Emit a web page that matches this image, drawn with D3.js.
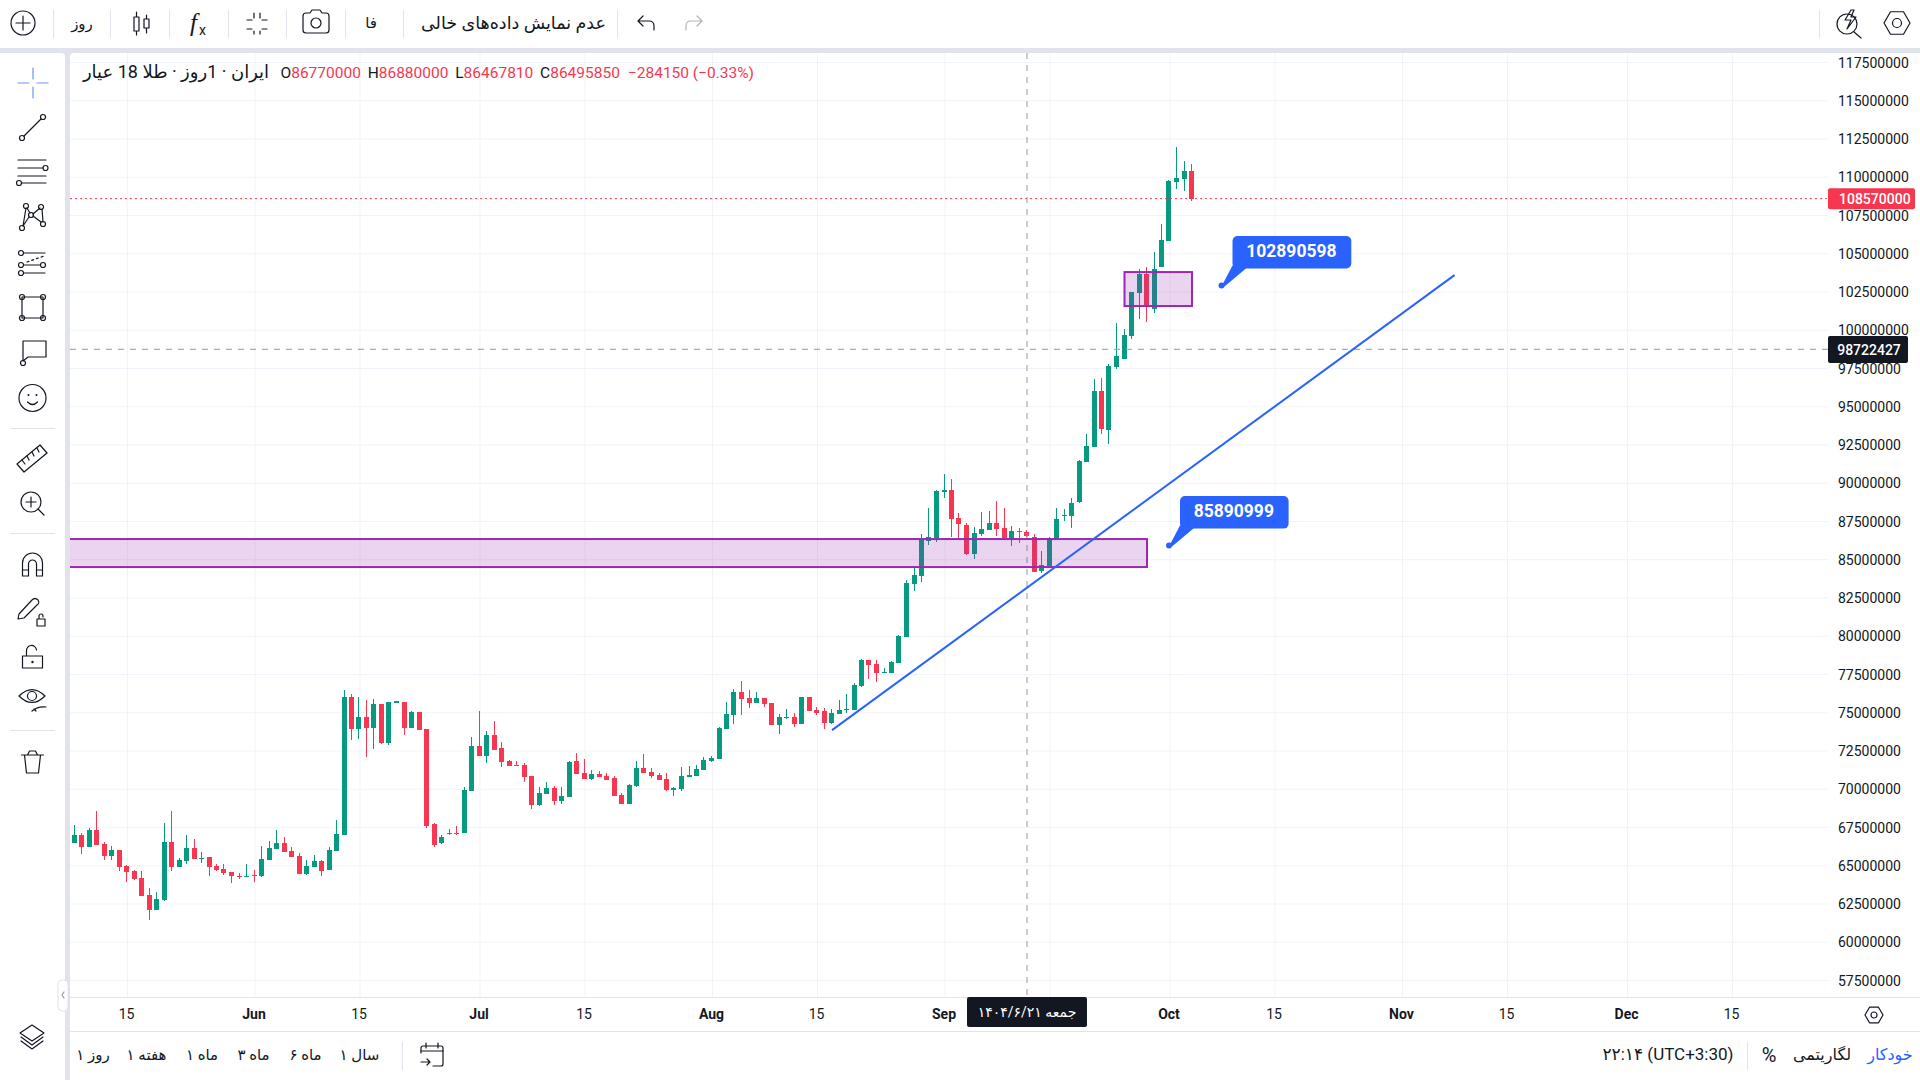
<!DOCTYPE html>
<html>
<head>
<meta charset="utf-8">
<script src="https://d3js.org/d3.v7.min.js"></script>
<style>
  body { margin: 0; background: #fff; }
  svg { display: block; }
  text { font-family: Roboto, "DejaVu Sans", sans-serif; fill: #131722; }
  .ic { fill: none; stroke: #131722; stroke-width: 1.2; stroke-linecap: round; stroke-linejoin: round; }
</style>
</head>
<body>
<svg id="chart" width="1920" height="1080"></svg>
<script>
// daily candles from 8 May 2025, prices in millions
const firstDay = new Date(Date.UTC(2025, 4, 8));
const opens = [
  66.46,66.98,66.20,67.31,66.39,65.61,66.00,64.95,64.63,64.17,
  63.06,62.08,62.73,66.52,64.89,65.28,66.13,65.41,65.54,64.95,
  64.76,64.56,64.30,64.23,64.37,64.30,65.35,66.07,66.46,65.93,
  65.61,64.43,64.89,65.28,64.69,65.93,66.98,75.99,73.91,74.69,
  73.97,75.54,72.99,75.61,75.67,73.97,75.00,73.91,67.70,66.43,
  67.11,67.11,67.09,69.86,72.80,72.14,73.51,72.67,71.82,71.55,
  71.55,70.84,68.94,69.66,70.05,69.20,69.46,71.82,71.03,70.64,
  70.97,70.84,70.70,69.59,69.00,70.18,71.36,71.10,70.90,70.64,
  69.92,69.99,70.77,70.84,71.23,71.82,71.95,73.91,74.82,76.32,
  75.93,75.60,75.93,75.60,74.16,74.62,74.69,74.23,75.99,75.15,
  75.08,74.30,74.88,75.15,75.15,76.71,78.41,78.15,77.56,77.56,
  78.22,79.92,83.39,83.91,86.20,86.39,89.40,89.53,87.70,87.24,
  85.35,86.65,86.91,87.37,87.05,86.33,86.85,86.77,86.46,84.24,
  84.56,86.33,87.83,87.83,88.75,91.36,92.34,96.00,93.45,97.57,
  98.09,99.60,102.41,103.65,101.36,104.10,105.81,109.66,109.86,110.38];
const highs = [
  67.63,67.11,67.44,68.55,66.52,66.26,66.00,65.02,64.69,64.63,
  63.52,63.25,67.76,68.55,65.47,66.98,66.72,65.87,65.54,65.08,
  65.08,64.56,64.50,65.08,64.69,66.26,66.59,67.31,66.85,66.20,
  65.80,65.35,65.67,65.35,66.20,67.96,76.46,76.19,75.99,75.80,
  75.87,75.54,75.67,75.74,75.67,75.08,75.00,73.91,67.76,66.95,
  67.37,67.57,70.12,73.38,75.08,73.78,74.43,73.06,71.88,71.82,
  71.69,70.84,70.12,70.44,70.18,70.12,71.82,72.34,71.95,71.23,
  71.16,71.03,70.84,69.72,70.31,71.82,72.27,71.36,71.03,71.03,
  70.12,71.42,71.49,71.55,72.08,72.14,74.04,75.67,76.52,77.04,
  76.45,76.32,75.93,75.60,74.88,75.21,74.95,75.99,75.99,75.34,
  75.28,75.21,75.80,76.19,76.91,78.48,78.41,78.41,77.89,78.35,
  80.05,83.65,84.56,86.65,88.35,89.53,90.57,90.25,88.03,87.37,
  87.11,88.09,88.16,88.81,88.35,87.18,87.05,86.88,86.65,85.54,
  86.46,88.35,88.29,89.00,91.49,93.19,96.79,96.85,97.77,100.45,
  100.05,102.47,103.97,104.10,105.09,106.92,109.79,111.95,111.03,110.84];
const lows = [
  66.46,65.74,66.20,66.33,65.35,65.35,64.63,63.91,64.04,62.99,
  61.42,62.08,62.67,64.63,64.89,65.08,65.41,65.15,64.30,64.63,
  64.37,63.84,64.10,64.23,63.91,64.23,65.35,66.07,65.87,65.54,
  64.43,64.37,64.89,64.30,64.69,65.93,66.98,73.19,73.25,72.08,
  72.60,72.93,72.86,75.61,73.51,73.97,73.84,67.44,66.22,66.38,
  66.98,66.98,67.09,69.86,72.14,71.69,72.54,71.42,71.49,71.49,
  70.44,68.68,68.88,69.66,68.94,69.00,69.46,70.97,70.64,70.57,
  70.77,70.57,69.53,69.00,69.00,70.12,71.03,70.70,70.57,69.86,
  69.53,69.86,70.77,70.84,71.23,71.75,71.95,73.91,74.23,74.82,
  75.28,75.60,75.34,74.16,73.58,74.56,74.03,74.23,75.08,74.82,
  73.90,74.23,74.88,74.95,75.15,76.65,77.17,76.97,77.56,77.56,
  78.22,79.92,82.93,83.52,85.93,86.13,89.00,86.46,86.37,85.28,
  85.02,86.52,86.91,86.52,86.39,85.87,86.07,86.47,84.17,84.10,
  84.56,86.33,87.50,87.05,88.68,91.36,92.34,93.19,92.54,97.44,
  98.09,99.40,100.71,100.51,101.10,104.10,105.81,109.20,109.07,108.42];
const closes = [
  66.98,66.20,67.31,66.33,65.61,66.00,64.89,64.56,64.10,62.99,
  62.08,62.80,66.52,64.89,65.35,66.13,65.41,65.47,64.89,64.69,
  64.50,64.30,64.23,64.30,64.30,65.41,66.13,66.46,65.87,65.54,
  64.43,64.95,65.28,64.63,66.00,67.04,75.99,73.91,74.69,73.97,
  75.54,72.99,75.67,75.74,73.97,75.00,73.84,67.57,66.33,66.87,
  67.04,67.04,69.92,72.80,72.14,73.51,72.54,71.75,71.49,71.49,
  70.77,68.94,69.72,70.05,69.20,69.53,71.75,70.97,70.64,70.97,
  70.77,70.57,69.53,69.00,70.25,71.36,71.03,70.84,70.57,69.92,
  70.05,70.84,70.90,71.29,71.88,72.01,73.97,74.89,76.33,75.86,
  75.60,75.93,75.54,74.16,74.69,74.69,74.23,75.99,75.08,74.95,
  74.30,74.95,75.15,75.21,76.78,78.41,78.09,77.56,77.63,78.28,
  79.98,83.45,83.97,86.33,86.46,89.46,89.53,87.63,87.31,85.35,
  86.72,86.98,87.37,86.98,86.39,86.85,86.78,86.50,84.17,84.63,
  86.39,87.63,87.90,88.68,91.42,92.41,96.00,93.52,97.64,98.29,
  99.66,102.47,103.65,101.56,103.97,105.87,109.73,109.92,110.38,108.57];

const priceTicks = d3.range(57.5, 118, 2.5);
const timeTicks = ["2025-05-15","2025-06-01","2025-06-15","2025-07-01","2025-07-15","2025-08-01",
  "2025-08-15","2025-09-01","2025-09-15","2025-10-01","2025-10-15","2025-11-01","2025-11-15",
  "2025-12-01","2025-12-15"].map((s) => new Date(s));
const hiddenTimeLabel = "2025-09-15";

const lastPrice = 108.57;
const crossPrice = 98.722427;
const crossDay = new Date("2025-09-12");
const headerLetters = ["O", "H", "L", "C"];
const headerValues = [86770000, 86880000, 86467810, 86495850];
const headerChange = "−284150 (−0.33%)";
const bandZone = { from: new Date("2025-03-01"), to: new Date("2025-09-28"), top: 86.32, bottom: 84.49 };
const boxZone = { from: new Date("2025-09-25"), to: new Date("2025-10-04"), top: 103.77, bottom: 101.55 };
const trendDays = [new Date("2025-08-17"), new Date("2025-11-08")];
const trendPrices = [73.83, 103.57];
const callouts = [
  { day: new Date("2025-10-08"), price: 102.890598, label: "102890598" },
  { day: new Date("2025-10-01"), price: 85.890999, label: "85890999" }
];
const rangeButtons = [["۱ روز", 93], ["۱ هفته", 146.5], ["۱ ماه", 202], ["۳ ماه", 253.5], ["۶ ماه", 305.5], ["۱ سال", 359.5]];

const green = "#089981", red = "#F7374F", blue = "#2962FF", purple = "#9C27B0", dark = "#131722", frame = "#E0E3EB", grid = "#F0F3FA";
const plotLeft = 70, plotRight = 1828, plotTop = 53, plotBottom = 997;

const svg = d3.select("#chart");

const x = d3.scaleUtc()
  .domain([firstDay, d3.utcDay.offset(firstDay, 240)])
  .range([74.5, 74.5 + 240 * 7.5]);
const y = d3.scaleLinear().domain([117.5, 57.5]).range([62, 980]);

// frame
svg.append("rect").attr("x", 0).attr("y", 48).attr("width", 1920).attr("height", 14).attr("fill", frame);
svg.append("rect").attr("x", 60).attr("y", 48).attr("width", 10).attr("height", 1032).attr("fill", frame);
svg.append("rect").attr("x", -8).attr("y", 53).attr("width", 73).attr("height", 1040).attr("rx", 4).attr("fill", "#fff");
svg.append("rect").attr("x", plotLeft).attr("y", plotTop).attr("width", 1860).attr("height", 1040).attr("rx", 4).attr("fill", "#fff");

svg.append("defs").append("clipPath").attr("id", "plot")
  .append("rect").attr("x", plotLeft).attr("y", plotTop).attr("width", plotRight - plotLeft).attr("height", plotBottom - plotTop);

// grid
const gridX = svg.append("g").attr("transform", `translate(0,${plotBottom})`)
  .call(d3.axisBottom(x).tickValues(timeTicks).tickSize(-(plotBottom - plotTop)).tickFormat(""));
const gridY = svg.append("g").attr("transform", `translate(${plotRight},0)`)
  .call(d3.axisLeft(y).tickValues(priceTicks).tickSize(plotRight - plotLeft).tickFormat(""));
[gridX, gridY].forEach((g) => {
  g.select(".domain").remove();
  g.selectAll("line").attr("stroke", grid);
});

const plot = svg.append("g").attr("clip-path", "url(#plot)");

// candles
const candles = opens.map((o, i) => ({
  day: d3.utcDay.offset(firstDay, i), o: o, h: highs[i], l: lows[i], c: closes[i]
}));
const colorOf = (d) => (d.c >= d.o ? green : red);
const bodyLeft = (d) => Math.floor(x(d.day) - 2.5);

const candle = plot.append("g").attr("shape-rendering", "crispEdges")
  .selectAll("g").data(candles).join("g");
candle.append("rect")
  .attr("x", (d) => bodyLeft(d) + 2)
  .attr("y", (d) => Math.round(y(d.h)))
  .attr("width", 1)
  .attr("height", (d) => Math.max(1, Math.round(y(d.l)) - Math.round(y(d.h))))
  .attr("fill", colorOf);
candle.append("rect")
  .attr("x", bodyLeft)
  .attr("y", (d) => Math.round(y(Math.max(d.o, d.c))))
  .attr("width", 5)
  .attr("height", (d) => Math.max(1, Math.round(y(Math.min(d.o, d.c))) - Math.round(y(Math.max(d.o, d.c)))))
  .attr("fill", colorOf);

// last price and crosshair lines
plot.append("line").attr("x1", plotLeft).attr("x2", plotRight).attr("y1", y(lastPrice)).attr("y2", y(lastPrice))
  .attr("stroke", red).attr("stroke-dasharray", "2 3");
plot.append("line").attr("x1", plotLeft).attr("x2", plotRight).attr("y1", y(crossPrice)).attr("y2", y(crossPrice))
  .attr("stroke", "#9598A1").attr("stroke-dasharray", "6 6");
plot.append("line").attr("x1", x(crossDay)).attr("x2", x(crossDay)).attr("y1", plotTop).attr("y2", plotBottom)
  .attr("stroke", "#9598A1").attr("stroke-dasharray", "6 6");

// drawings
[bandZone, boxZone].forEach((z) => {
  plot.append("rect")
    .attr("x", x(z.from)).attr("y", y(z.top))
    .attr("width", x(z.to) - x(z.from)).attr("height", y(z.bottom) - y(z.top))
    .attr("fill", purple).attr("fill-opacity", 0.2)
    .attr("stroke", purple).attr("stroke-width", 2);
});
plot.append("line")
  .attr("x1", x(trendDays[0])).attr("y1", y(trendPrices[0]))
  .attr("x2", x(trendDays[1])).attr("y2", y(trendPrices[1]))
  .attr("stroke", blue).attr("stroke-width", 2);

callouts.forEach((c) => {
  const cx = x(c.day), cy = y(c.price);
  const w = c.label.length * 10.2 + 27;
  const g = plot.append("g").attr("transform", `translate(${cx - 0.5},${cy})`);
  g.append("circle").attr("r", 3).attr("fill", blue);
  g.append("path").attr("d", "M1,-1 L11,-20 L28,-20 L3,1 Z").attr("fill", blue);
  g.append("rect").attr("x", 11).attr("y", -49.5).attr("width", w).attr("height", 32.5).attr("rx", 5).attr("fill", blue);
  g.append("text").attr("x", 10.5 + w / 2).attr("y", -28.5).attr("text-anchor", "middle")
    .attr("font-size", 17.5).attr("font-weight", 700).style("fill", "#fff").text(c.label);
});

// axes
const axisY = svg.append("g").attr("transform", `translate(${plotRight},0)`)
  .call(d3.axisRight(y).tickValues(priceTicks).tickSize(0).tickPadding(10).tickFormat((d) => d * 1000000));
axisY.select(".domain").remove();
axisY.selectAll("text").attr("font-size", 14).attr("dy", "0.36em").style("font-family", "Roboto").style("fill", dark);

const axisX = svg.append("g").attr("transform", `translate(-1,${plotBottom})`)
  .call(d3.axisBottom(x).tickValues(timeTicks).tickSize(0).tickPadding(12)
    .tickFormat((d) => (d.toISOString().slice(0, 10) == hiddenTimeLabel ? "" : d.getUTCDate() == 1 ? d3.utcFormat("%b")(d) : d.getUTCDate())));
axisX.select(".domain").remove();
axisX.selectAll("text").attr("font-size", 14).style("font-family", "Roboto").style("fill", dark)
  .attr("font-weight", (d) => (d.getUTCDate() == 1 ? 700 : 400));

svg.append("line").attr("x1", plotLeft).attr("x2", 1920).attr("y1", 997.5).attr("y2", 997.5).attr("stroke", frame);
svg.append("line").attr("x1", plotLeft).attr("x2", 1920).attr("y1", 1031.5).attr("y2", 1031.5).attr("stroke", frame);

// axis labels for last price, crosshair price and date
function priceTag(price, width, fill, weight) {
  const py = y(price);
  svg.append("rect").attr("x", plotRight).attr("y", py - 10.5).attr("width", width).attr("height", 21)
    .attr("rx", 2).attr("fill", fill);
  svg.append("text").attr("x", plotRight + 11).attr("y", py + 5).attr("font-size", 14).attr("font-weight", weight)
    .style("fill", "#fff").text(Math.round(price * 1000000));
}
priceTag(lastPrice, 87, red, 500);
svg.append("rect").attr("x", plotRight).attr("y", 336).attr("width", 80).attr("height", 27).attr("rx", 2).attr("fill", dark);
svg.append("text").attr("x", plotRight + 41).attr("y", 354.5).attr("text-anchor", "middle").attr("font-size", 14)
  .attr("font-weight", 500).style("fill", "#fff").text(Math.round(crossPrice * 1000000));
svg.append("rect").attr("x", 967).attr("y", 997).attr("width", 120).attr("height", 30).attr("rx", 2).attr("fill", dark);
svg.append("text").attr("x", x(crossDay)).attr("y", 1017).attr("text-anchor", "middle").attr("direction", "rtl")
  .attr("font-size", 14).style("fill", "#fff").text("جمعه ۱۴۰۴/۶/۲۱");

// legend line
svg.append("text").attr("x", 176).attr("y", 78).attr("text-anchor", "middle").attr("direction", "rtl")
  .attr("font-size", 18).text("ایران · 1روز · طلا 18 عیار");
const legend = svg.append("text").attr("x", 280.5).attr("y", 78).attr("font-size", 15.5);
headerLetters.forEach((letter, i) => {
  legend.append("tspan").attr("dx", i ? 6.8 : 0).text(letter);
  legend.append("tspan").style("fill", red).text(headerValues[i]);
});
legend.append("tspan").attr("dx", 8).style("fill", red).text(headerChange);

// top toolbar
function label(tx, ty, str, size, rtl, color) {
  const t = svg.append("text").attr("x", tx).attr("y", ty).attr("text-anchor", "middle").attr("font-size", size).text(str);
  if (rtl) t.attr("direction", "rtl");
  if (color) t.style("fill", color);
  return t;
}
function icon(ix, iy, paths, stroke) {
  const g = svg.append("g").attr("class", "ic").attr("transform", `translate(${ix},${iy})`);
  paths.forEach((p) => g.append("path").attr("d", p));
  if (stroke) g.style("stroke", stroke);
  return g;
}
function dot(px, py, r) {
  return `M${px - r},${py}a${r},${r} 0 1,0 ${2 * r},0a${r},${r} 0 1,0 ${-2 * r},0`;
}
function divider(x1, y1, x2, y2) {
  svg.append("line").attr("x1", x1).attr("y1", y1).attr("x2", x2).attr("y2", y2).attr("stroke", frame);
}
function hexagon(r) {
  return d3.line()(d3.range(6).map((i) => [r * Math.cos(i * Math.PI / 3), r * Math.sin(i * Math.PI / 3)])) + "Z";
}

[53.5, 110.5, 169.5, 228.5, 286.5, 345.5, 403.5, 617.5, 1819.5].forEach((dx) => divider(dx, 10, dx, 38));
icon(23, 23, [dot(0, 0, 12), "M-7,0H7M0,-7V7"]);
label(82, 29, "روز", 15, true);
icon(140, 23, ["M-6,-6h5v14h-5zM-3.5,-11v5M-3.5,8v4", "M4,-4h5v9h-5zM6.5,-8v4M6.5,5v5"]);
svg.append("text").attr("x", 190).attr("y", 31).attr("font-size", 25).attr("font-style", "italic").style("font-family", "Liberation Serif").text("f");
svg.append("text").attr("x", 199).attr("y", 35).attr("font-size", 14).style("font-family", "Roboto").text("x");
icon(257, 23, ["M-10,-3h5", "M-3,-5v-5", "M10,-3h-5", "M3,-5v-5", "M-10,6h5", "M-3,8v3", "M10,6h-5", "M3,8v3"]);
icon(316, 23, ["M-13,-7q0,-3 3,-3h4l2,-3h8l2,3h4q3,0 3,3v14q0,3 -3,3h-20q-3,0 -3,-3z", dot(0, 0, 5)]);
label(371, 28, "فا", 15, true);
label(513.5, 29, "عدم نمایش داده‌های خالی", 17.5, true);
icon(646, 23, ["M-8,-2L-3,-7M-8,-2L-3,3M-8,-2H3Q8,-2 8,3V7"]);
icon(694, 23, ["M8,-2L3,-7M8,-2L3,3M8,-2H-3Q-8,-2 -8,3V7"], "#B2B5BE");
icon(1848, 23, [dot(-1, 1, 10), "M3,-13L-3,-3H3L-1,6L8,-6H3L6,-13Z", "M6,9L13,15"]);
icon(1897, 23, [hexagon(13), dot(0, 0, 4.5)]);

// left toolbar
icon(33, 83, ["M-15,0H-4M4,0H15M0,-15V-4M0,4V15"], "#6A95F5");
icon(0, 0, [dot(22, 138, 2.5), dot(43, 117, 2.5), "M24,136L41,119"]);
icon(0, 0, ["M18,160H46", "M18,168H43", dot(45.5, 168, 2.5), "M18,176H46", dot(19, 183, 2.5), "M22,183H46"]);
icon(0, 0, [dot(22, 228, 2.5), dot(26, 206, 2.5), dot(31, 215, 2.5), dot(41, 207, 2.5), dot(43, 224, 2.5),
  "M23,226L26,208M27,208L30,213M33,214L40,208M33,216L41,222M29,217L23,226M42,209L43,222"]);
icon(0, 0, [dot(21, 253, 2.5), "M24,253H45", dot(21, 265, 2.5), "M24,265H40", dot(43, 265, 2.5), dot(21, 273, 2.5), "M24,273H45",
  "M27,262L44,256"]).select("path:last-child").attr("stroke-dasharray", "2 3");
icon(0, 0, ["M22,297H43V318H22Z", dot(22, 297, 2.5), dot(43, 297, 2.5), dot(22, 318, 2.5), dot(43, 318, 2.5)]);
icon(0, 0, ["M23,341H46V357H28L23,361Z", dot(23, 363, 2.5)]);
icon(32.5, 398, [dot(0, 0, 13.5), dot(-4, -3, .4), dot(4, -3, .4), "M-5,4Q0,9 5,4"]);
divider(10, 428.5, 55, 428.5);
icon(32, 458, ["M-15,6L8,-13L15,-5L-8,14Z", "M-10,2L-7,6M-5,-2L-3,2M0,-6L2,-2M5,-10L7,-6"]);
icon(31, 502, [dot(0, 0, 10), "M-5,0H5M0,-5V5", "M7,7L13,13"]);
divider(10, 533.5, 55, 533.5);
icon(32.5, 564, ["M-10,12V-1A10,10 0 0,1 10,-1V12H4V0A4,4 0 0,0 -4,0V12Z", "M-10,6H-4M4,6H10"]);
icon(32, 609, ["M-13,5L0,-9Q3,-12 6,-9Q8,-6 5,-4L-8,9L-14,10Z", "M5,10h8v7h-8zM7,10v-3a2,2 0 0,1 4,0v1"]);
icon(32.5, 658, ["M-10,-2h20v12h-20zM-6,-2v-5a5,5 0 0,1 10,-1", dot(0, 4, .6)]);
icon(32, 697, ["M-13,-1Q0,-14 13,-1Q0,12 -13,-1Z", dot(0, -1, 4.5), "M0,14Q6,9 14,10M2,12L4,14"]);
divider(10, 730.5, 55, 730.5);
icon(32.5, 762, ["M-11,-7H11M-5,-7L-3,-11H3L5,-7M-8,-7L-6,11H6L8,-7"]);
icon(32, 1037, ["M0,-12L12,-4L0,4L-12,-4Z", "M-11,0L0,8L11,0", "M-11,4L0,12L11,4"]);
svg.append("rect").attr("x", 58).attr("y", 980).attr("width", 10).attr("height", 31).attr("rx", 4).attr("fill", "#fff").attr("stroke", frame);
icon(63, 995, ["M1,-3L-1,0L1,3"], "#9598A1");

// bottom bar
rangeButtons.forEach((b) => label(b[1], 1060, b[0], 15));
divider(402.5, 1042, 402.5, 1070);
icon(432, 1055, ["M-11,-2V-7Q-11,-9 -9,-9H9Q11,-9 11,-7V9Q11,11 9,11H1", "M-11,-4H11M-6,-12V-7M6,-12V-7", "M-11,7H-2M-5,4L-2,7L-5,10"]);
divider(1747.5, 1042, 1747.5, 1070);
label(1668, 1060, "۲۲:۱۴ (UTC+3:30)", 17);
label(1769, 1062, "%", 20);
label(1822, 1060, "لگاریتمی", 16, true);
label(1890, 1060, "خودکار", 16, true, "#2962FF");
icon(1874, 1015, [hexagon(9), dot(0, 0, 3)]);
</script>
</body>
</html>
